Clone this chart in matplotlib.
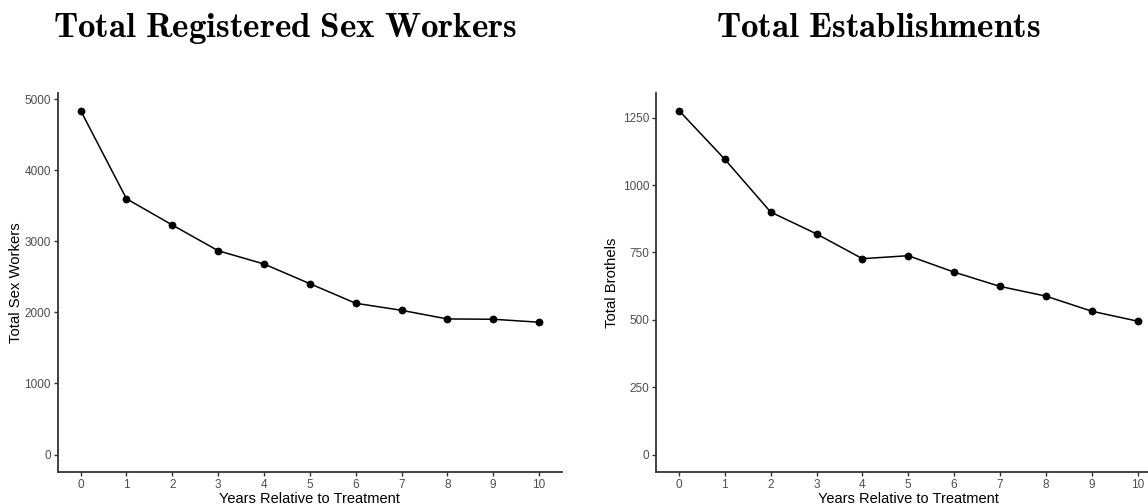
import matplotlib
matplotlib.use("Agg")
import matplotlib.pyplot as plt

years = list(range(11))
sex_workers = [4845, 3602, 3232, 2870, 2683, 2406, 2130, 2031, 1909, 1905, 1863]
brothels = [1277, 1096, 900, 819, 727, 738, 677, 624, 588, 532, 495]
left_yticks = [0, 1000, 2000, 3000, 4000, 5000]
right_yticks = [0, 250, 500, 750, 1000, 1250]

plt.rcParams['font.family'] = ['Liberation Sans', 'DejaVu Sans']
plt.rcParams['mathtext.fontset'] = 'cm'

W, H = 1148, 504
fig = plt.figure(figsize=(W / 100, H / 100), dpi=100)

def px_axes(x0, x1, y0, y1):
    return fig.add_axes([x0 / W, 1 - y1 / H, (x1 - x0) / W, (y1 - y0) / H])

axL = px_axes(57.7, 562, 93.3, 471.7)
axR = px_axes(656, 1160.5, 93.3, 471.7)

def style(ax, y, ylabel, yticks, label_x_px, x0_px):
    ax.plot(years, y, color='black', lw=1.1, marker='o', ms=4.6, zorder=3)
    ax.set_xlim(-0.5, 10.5)
    top = max(y)
    ax.set_ylim(-0.05 * top, 1.05 * top)
    ax.set_xticks(years)
    ax.set_yticks(yticks)
    for s in ['top', 'right']:
        ax.spines[s].set_visible(False)
    for s in ['left', 'bottom']:
        ax.spines[s].set_color('#333333')
        ax.spines[s].set_linewidth(1.3)
    ax.tick_params(axis='both', colors='#333333', labelcolor='#4D4D4D',
                   labelsize=8.5, length=3, width=1, pad=2)
    ax.set_xlabel('Years Relative to Treatment', fontsize=10.5, color='black', labelpad=1)
    ax.set_ylabel(ylabel, fontsize=10.7, color='black')
    ax.yaxis.set_label_coords((label_x_px - x0_px) / 504.4, 0.5)

style(axL, sex_workers, 'Total Sex Workers', left_yticks, 22.5, 57.7)
style(axR, brothels, 'Total Brothels', right_yticks, 619, 656)

fig.text(285.5 / W, 1 - 36.7 / H, r'$\mathbf{Total\ Registered\ Sex\ Workers}$',
         ha='center', va='baseline', fontsize=25.2)
fig.text(878.5 / W, 1 - 36.7 / H, r'$\mathbf{Total\ Establishments}$',
         ha='center', va='baseline', fontsize=25.2)

fig.savefig('out.png', dpi=100)
